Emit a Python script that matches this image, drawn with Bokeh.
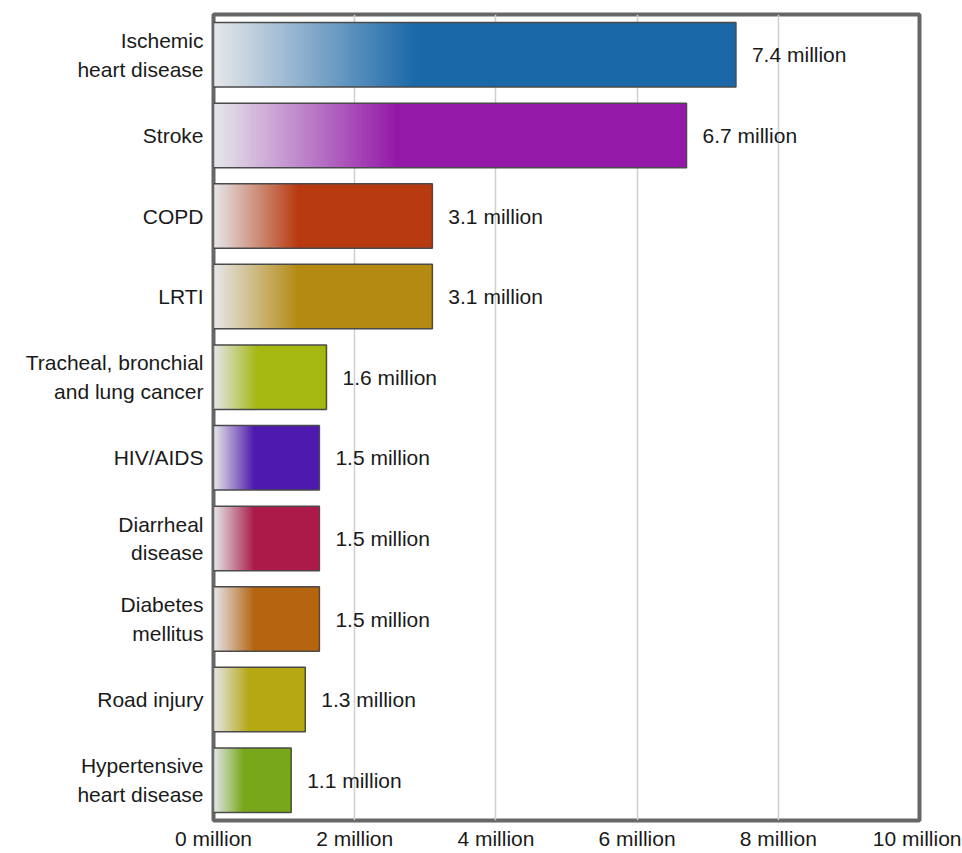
from bokeh.plotting import figure
from bokeh.models import FactorRange, Range1d, FixedTicker, ColumnDataSource
from bokeh.core.properties import value
from bokeh.embed import file_html
from bokeh.resources import INLINE

# ---- data ----
categories = [
    "Ischemic\nheart disease",
    "Stroke",
    "COPD",
    "LRTI",
    "Tracheal, bronchial\nand lung cancer",
    "HIV/AIDS",
    "Diarrheal\ndisease",
    "Diabetes\nmellitus",
    "Road injury",
    "Hypertensive\nheart disease",
]
deaths_million = [7.4, 6.7, 3.1, 3.1, 1.6, 1.5, 1.5, 1.5, 1.3, 1.1]
value_labels = ["7.4 million", "6.7 million", "3.1 million", "3.1 million", "1.6 million",
                "1.5 million", "1.5 million", "1.5 million", "1.3 million", "1.1 million"]
bar_colors = ["#1a68a8", "#9419a8", "#b83a10", "#b58a12", "#a5b812",
              "#4e19ae", "#ab1a48", "#b5640f", "#b5a812", "#78a81a"]
tick_values = [0, 2, 4, 6, 8, 10]
tick_labels = ["0 million", "2 million", "4 million", "6 million", "8 million", "10 million"]

FONT = "Liberation Sans"
FS = "21px"
GRAD_START = (230, 231, 234)
GRAD_FRACTION = 0.39
N_STEPS = 90


def hex_to_rgb(h):
    h = h.lstrip("#")
    return tuple(int(h[i:i + 2], 16) for i in (0, 2, 4))


def mix(a, b, t):
    return "#%02x%02x%02x" % tuple(int(round(a[i] + (b[i] - a[i]) * t)) for i in range(3))


# gradient segments, derived from the data values
seg_y, seg_left, seg_right, seg_color = [], [], [], []
for cat, v, col in zip(categories, deaths_million, bar_colors):
    end_rgb = hex_to_rgb(col)
    g = GRAD_FRACTION * v
    for k in range(N_STEPS):
        seg_y.append(cat)
        seg_left.append(g * k / N_STEPS)
        seg_right.append(g)
        seg_color.append(mix(GRAD_START, end_rgb, k / (N_STEPS - 1)))

bars = ColumnDataSource(dict(y=categories, right=deaths_million, color=bar_colors,
                             label=value_labels))
segs = ColumnDataSource(dict(y=seg_y, left=seg_left, right=seg_right, color=seg_color))

p = figure(
    y_range=FactorRange(factors=categories[::-1]),
    x_range=Range1d(0, 10),
    frame_width=706, frame_height=806,
    min_border_left=213, min_border_right=42, min_border_top=14, min_border_bottom=31,
    output_backend="svg", toolbar_location=None,
    background_fill_color="white", border_fill_color="white",
)

# solid bars
p.hbar(y="y", left=0, right="right", height=0.8, source=bars,
       fill_color="color", line_color=None)
# gradient part
p.hbar(y="y", left="left", right="right", height=0.8, source=segs,
       fill_color="color", line_color=None)
# outlines
p.hbar(y="y", left=0, right="right", height=0.8, source=bars,
       fill_color=None, line_color="#4a4a4a", line_width=1.5)

# value labels
p.text(x="right", y="y", text="label", source=bars, x_offset=16,
       text_baseline="middle", text_align="left",
       text_font=value(FONT), text_font_size=FS, text_color="#1a1a1a")

# grid
p.ygrid.grid_line_color = None
p.xgrid.ticker = FixedTicker(ticks=tick_values)
p.xgrid.grid_line_color = "#cfcfcf"
p.xgrid.grid_line_width = 1.5

# axes
p.xaxis.ticker = FixedTicker(ticks=tick_values)
p.xaxis.major_label_overrides = {t: l for t, l in zip(tick_values, tick_labels)}
for ax in (p.xaxis, p.yaxis):
    ax.axis_line_color = None
    ax.major_tick_line_color = None
    ax.minor_tick_line_color = None
    ax.major_tick_out = 0
    ax.major_tick_in = 0
    ax.major_label_text_font = FONT
    ax.major_label_text_font_size = FS
    ax.major_label_text_color = "#1a1a1a"
p.xaxis.major_label_standoff = 6
p.yaxis.major_label_standoff = 10
p.yaxis.major_label_text_line_height = 1.25

p.outline_line_color = "#666666"
p.outline_line_width = 4

open("out.html", "w").write(file_html(p, INLINE))
